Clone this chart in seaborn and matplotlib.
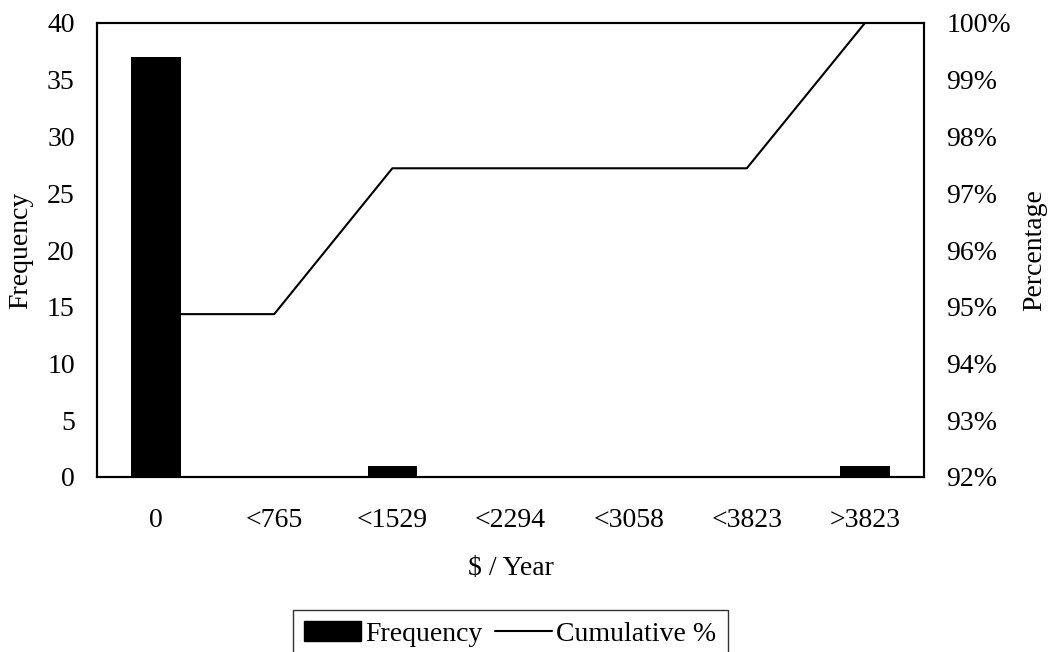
import matplotlib
matplotlib.use("Agg")
import matplotlib.pyplot as plt
import seaborn as sns
import pandas as pd
from matplotlib.ticker import PercentFormatter
from matplotlib.patches import Patch
from matplotlib.lines import Line2D

categories = ["0", "<765", "<1529", "<2294", "<3058", "<3823", ">3823"]
frequency = [37, 0, 1, 0, 0, 0, 1]
cumulative_pct = [94.87, 94.87, 97.44, 97.44, 97.44, 97.44, 100.0]

sns.set_theme(style="white")
plt.rcParams["font.family"] = ["Liberation Serif", "DejaVu Serif"]
plt.rcParams["text.color"] = "black"
plt.rcParams["axes.labelcolor"] = "black"
plt.rcParams["xtick.color"] = "black"
plt.rcParams["ytick.color"] = "black"
FS = 20

df = pd.DataFrame({"bin": categories, "freq": frequency, "cum": cumulative_pct})

fig = plt.figure(figsize=(10.53, 6.52), dpi=100)
ax = fig.add_axes([97/1053, 1 - 477/652, (924-97)/1053, (477-23)/652])

sns.barplot(data=df, x="bin", y="freq", color="black", width=0.42,
            saturation=1, linewidth=0, ax=ax, zorder=3)
ax.set_ylim(0, 40)
ax.set_yticks(range(0, 41, 5))
ax.set_xlim(-0.5, 6.5)
ax.set_ylabel("Frequency", fontsize=FS, va="center", ha="center")
ax.yaxis.set_label_coords((21 - 97) / 827, 0.5)
ax.set_xlabel("$ / Year", fontsize=FS, labelpad=17)
ax.tick_params(axis="y", labelsize=FS, length=0, pad=16)
ax.tick_params(axis="x", labelsize=FS, length=0, pad=22)

ax2 = ax.twinx()
sns.lineplot(data=df, x="bin", y="cum", color="black", linewidth=1.5,
             ax=ax2, sort=False, zorder=2)
ax2.set_ylim(92, 100)
ax2.set_yticks(range(92, 101, 1))
ax2.yaxis.set_major_formatter(PercentFormatter(decimals=0))
ax2.set_ylabel("Percentage", fontsize=FS, va="center", ha="center")
ax2.yaxis.set_label_coords((1035 - 97) / 827, 0.5)
ax2.tick_params(axis="y", labelsize=FS, length=0, pad=16)
ax2.set_xlim(-0.5, 6.5)
ax.set_zorder(ax2.get_zorder() + 1)
ax.patch.set_visible(False)

for a in (ax, ax2):
    for s in a.spines.values():
        s.set_color("black")
        s.set_linewidth(1.5)
    a.grid(False)

handles = [Patch(facecolor="black", edgecolor="black"),
           Line2D([0], [0], color="black", linewidth=1.5)]
leg = fig.legend(handles, ["Frequency", "Cumulative %"], loc="upper center",
                 bbox_to_anchor=(510.5/1053, 1 - 610/652), ncol=2, fontsize=FS,
                 frameon=True, fancybox=False, edgecolor="black",
                 handlelength=2.05, handletextpad=0.15, columnspacing=0.45,
                 borderpad=0.4, borderaxespad=0)
leg.get_frame().set_linewidth(1.0)

fig.savefig("out.png", dpi=100)
